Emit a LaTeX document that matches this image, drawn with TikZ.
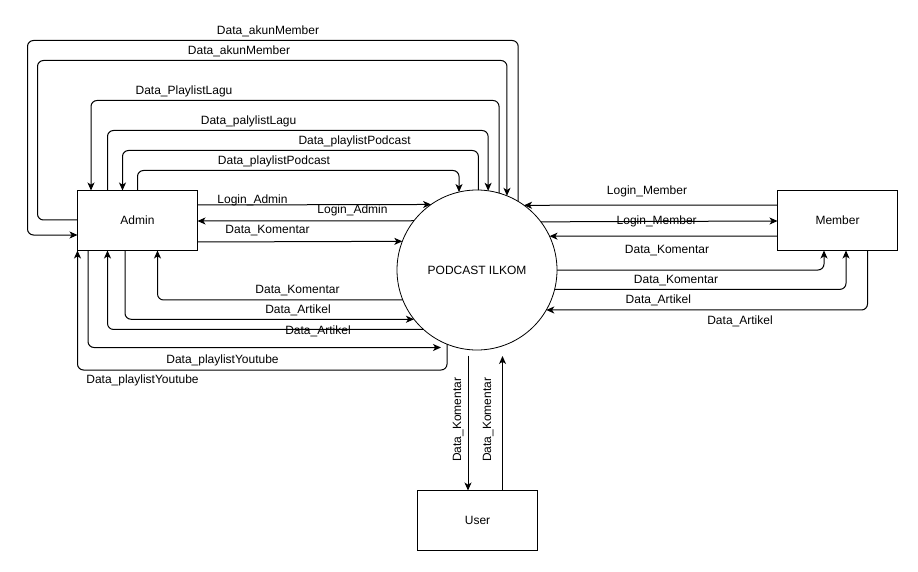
\documentclass[tikz,border=0pt]{standalone}
\usepackage{fontspec}
\setmainfont{Liberation Sans}
\usetikzlibrary{arrows.meta}
\begin{document}
\begin{tikzpicture}[x=1pt,y=-1pt,
  every node/.style={font=\fontsize{12}{14}\selectfont},
  box/.style={draw,line width=1pt,minimum width=120pt,minimum height=60pt,inner sep=0pt,outer sep=0pt},
  proc/.style={draw,circle,line width=0.8pt,minimum size=160pt,inner sep=0pt,outer sep=0pt},
  flow/.style={line width=1pt,rounded corners=6pt,-{Stealth[length=8pt,width=7pt,inset=2.2pt]}},
  lbl/.style={inner sep=0pt}]
\fill[white] (0,0) rectangle (918,572);
\useasboundingbox (0,0) rectangle (918,572);
% nodes
\node[box] (admin) at (137.5,220.5) {Admin};
\node[box] (member) at (837.5,220.5) {Member};
\node[box] (user) at (477.5,520.5) {User};
\node[proc] (c) at (477,270) {PODCAST ILKOM};
\coordinate (pY) at (441,347.5);
\coordinate (uA) at (468,355.5);
\coordinate (uB) at (502.5,356);
% top connectors
\draw[flow] (c.59.17) |- (27.5,40.5) |- (admin.west |- 0,235);
\draw[flow] (admin.west |- 0,220) -| (37.5,60.5) -| (c.68.36);
\draw[flow] (c.74.78) |- (91,100.5) -- (admin.north -| 91,0);
\draw[flow] (admin.north -| 107.5,0) -- (107.5,130.5) -| (c.82.82);
\draw[flow] (c.89.28) |- (122.5,150.5) -- (admin.north -| 122.5,0);
\draw[flow] (admin.north -| 137.5,0) -- (137.5,170.5) -| (c.103.74);
% left middle
\draw[flow] (admin.east |- 0,205) -- (c.125.66);
\draw[flow] (c.142.23) -- (admin.east |- 0,221);
\draw[flow] (admin.east |- 0,242) -- (c.159.51);
\draw[flow] (c.202.02) -| (admin.south -| 157.5,0);
\draw[flow] (admin.south -| 125,0) |- (c.218.68);
\draw[flow] (c.228.59) -| (admin.south -| 107.5,0);
\draw[flow] (admin.south -| 88,0) |- (pY);
\draw[flow] (c.248.75) |- (77.5,370) -- (admin.south west);
% bottom
\draw[flow] (uA) -- (user.north -| 468,0);
\draw[flow] (user.north -| 502.5,0) -- (uB);
% right
\draw[flow] (member.west |- 0,205) -- (c.54.34);
\draw[flow] (c.37.77) -- (member.west |- 0,221);
\draw[flow] (member.west |- 0,236) -- (c.25.15);
\draw[flow] (c.0) -| (member.south -| 824,0);
\draw[flow] (c.-14.48) -| (member.south -| 846,0);
\draw[flow] (member.south -| 867.5,0) |- (c.-30);
% labels
\node[lbl] (l1) at (268,31) {Data\_akunMember};
\node[lbl] (l2) at (239,51) {Data\_akunMember};
\node[lbl] (l3) at (184,91) {Data\_PlaylistLagu};
\node[lbl] (l4) at (248.6,121) {Data\_palylistLagu};
\node[lbl] (l5) at (354.6,141) {Data\_playlistPodcast};
\node[lbl] (l6) at (274,161) {Data\_playlistPodcast};
\node[lbl] (l7) at (252.5,200.7) {Login\_Admin};
\node[lbl] (l8) at (352.5,210.7) {Login\_Admin};
\node[lbl] (l9) at (267.5,231) {Data\_Komentar};
\node[lbl] (l10) at (297.5,290.7) {Data\_Komentar};
\node[lbl] (l11) at (298,310.7) {Data\_Artikel};
\node[lbl] (l12) at (318,331) {Data\_Artikel};
\node[lbl] (l13) at (222.5,360.7) {Data\_playlistYoutube};
\node[lbl] (l14) at (142.5,380.7) {Data\_playlistYoutube};
\node[lbl] (r1) at (647,191) {Login\_Member};
\node[lbl] (r2) at (656.7,221) {Login\_Member};
\node[lbl] (r3) at (667,250.7) {Data\_Komentar};
\node[lbl] (r4) at (676,280.7) {Data\_Komentar};
\node[lbl] (r5) at (658.4,300.7) {Data\_Artikel};
\node[lbl] (r6) at (740,321) {Data\_Artikel};
\node[lbl,rotate=90] (b1) at (458.3,419.7) {Data\_Komentar};
\node[lbl,rotate=90] (b2) at (488.3,419.7) {Data\_Komentar};
\end{tikzpicture}
\end{document}
